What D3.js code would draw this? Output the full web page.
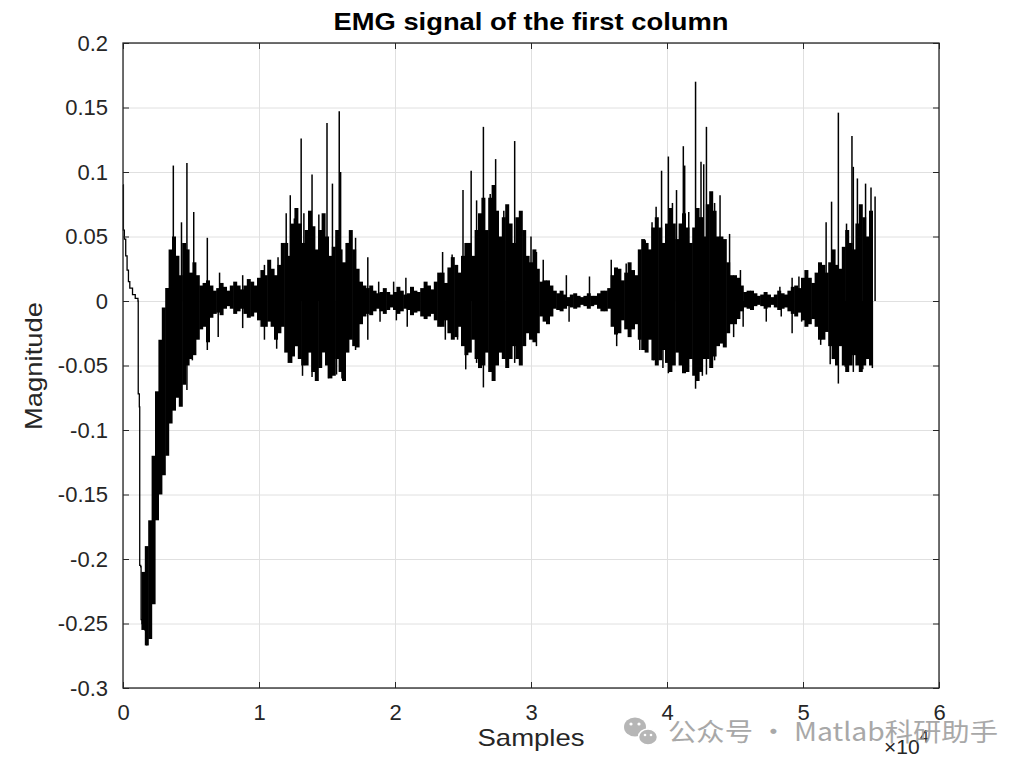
<!DOCTYPE html>
<html>
<head>
<meta charset="utf-8">
<script src="https://cdn.jsdelivr.net/npm/d3@7"></script>
<style>
  body{margin:0;background:#fff;}
  text{font-family:"Liberation Sans",Arial,sans-serif;fill:#262626;}
</style>
</head>
<body>
<div id="graph"></div>
<script>
// x values are in units of 1e4 samples (axis shows x10^4)

// start of the record: slow decay then the big negative drop
var leadX = [0, 0.003, 0.01, 0.02, 0.03, 0.04, 0.05, 0.07, 0.09, 0.11, 0.112, 0.12, 0.123, 0.13, 0.133, 0.14, 0.15, 0.16, 0.17, 0.175];
var leadY = [0.09, 0.055, 0.048, 0.035, 0.024, 0.015, 0.01, 0.005, 0.002, 0.0, -0.072, -0.082, -0.205, -0.206, -0.247, -0.25, -0.24, -0.255, -0.26, -0.267];

// dense part of the signal, max / min every 0.05 (x1e4) from 0.15 to 5.50
var coreStart = 0.15, coreStep = 0.05;
var coreHi = [-0.21, -0.17, -0.07, -0.005, 0.04, 0.035, 0.045, 0.022, 0.02, 0.014,
  0.012, 0.01, 0.011, 0.012, 0.012, 0.012, 0.015, 0.018, 0.02, 0.025,
  0.028, 0.045, 0.06, 0.06, 0.055, 0.058, 0.055, 0.05, 0.042, 0.04,
  0.045, 0.04, 0.015, 0.01, 0.008, 0.007, 0.007, 0.007, 0.008, 0.006,
  0.008, 0.01, 0.012, 0.015, 0.022, 0.026, 0.028, 0.035, 0.045, 0.055,
  0.08, 0.08, 0.07, 0.065, 0.06, 0.065, 0.055, 0.03, 0.025, 0.016,
  0.012, 0.006, 0.005, 0.005, 0.004, 0.004, 0.004, 0.006, 0.008, 0.02,
  0.025, 0.022, 0.024, 0.04, 0.045, 0.057, 0.057, 0.06, 0.06, 0.06,
  0.057, 0.057, 0.065, 0.075, 0.07, 0.05, 0.03, 0.02, 0.012, 0.008,
  0.006, 0.005, 0.005, 0.005, 0.006, 0.008, 0.012, 0.018, 0.018, 0.022,
  0.028, 0.03, 0.028, 0.042, 0.045, 0.06, 0.065, 0.07];
var coreLo = [-0.255, -0.262, -0.17, -0.135, -0.095, -0.075, -0.065, -0.045, -0.03, -0.02,
  -0.013, -0.009, -0.006, -0.006, -0.008, -0.01, -0.012, -0.015, -0.02, -0.02,
  -0.025, -0.04, -0.043, -0.045, -0.05, -0.055, -0.052, -0.05, -0.058, -0.055,
  -0.04, -0.035, -0.018, -0.01, -0.008, -0.008, -0.007, -0.007, -0.008, -0.007,
  -0.009, -0.012, -0.012, -0.015, -0.02, -0.025, -0.028, -0.035, -0.04, -0.045,
  -0.05, -0.055, -0.05, -0.045, -0.045, -0.045, -0.035, -0.03, -0.025, -0.016,
  -0.012, -0.007, -0.006, -0.005, -0.005, -0.004, -0.004, -0.006, -0.008, -0.02,
  -0.025, -0.022, -0.022, -0.03, -0.04, -0.046, -0.046, -0.048, -0.05, -0.05,
  -0.055, -0.058, -0.055, -0.045, -0.043, -0.033, -0.025, -0.018, -0.008, -0.006,
  -0.004, -0.004, -0.005, -0.005, -0.006, -0.008, -0.012, -0.015, -0.018, -0.02,
  -0.03, -0.035, -0.05, -0.05, -0.05, -0.05, -0.05, -0.05];

// max / min in between (0.175, 0.225, ... 5.475), gives the ragged edge
var midStart = 0.175;
var midHi = [-0.19, -0.12, -0.03, 0.01, 0.05, 0.02, 0.04, 0.03, 0.012, 0.016,
  0.008, 0.014, 0.008, 0.015, 0.009, 0.017, 0.012, 0.024, 0.032, 0.02,
  0.045, 0.035, 0.072, 0.045, 0.07, 0.04, 0.068, 0.035, 0.055, 0.03,
  0.055, 0.025, 0.012, 0.012, 0.006, 0.01, 0.005, 0.011, 0.005, 0.011,
  0.007, 0.015, 0.009, 0.022, 0.014, 0.034, 0.022, 0.045, 0.035, 0.068,
  0.055, 0.09, 0.05, 0.075, 0.045, 0.07, 0.035, 0.04, 0.015, 0.016,
  0.008, 0.008, 0.003, 0.006, 0.003, 0.006, 0.004, 0.008, 0.01, 0.026,
  0.016, 0.03, 0.02, 0.048, 0.04, 0.065, 0.045, 0.072, 0.048, 0.068,
  0.045, 0.072, 0.05, 0.085, 0.05, 0.048, 0.02, 0.018, 0.007, 0.008,
  0.004, 0.007, 0.003, 0.008, 0.005, 0.011, 0.01, 0.024, 0.014, 0.03,
  0.022, 0.04, 0.025, 0.055, 0.04, 0.075, 0.05];
var midLo = [-0.267, -0.235, -0.15, -0.12, -0.085, -0.082, -0.05, -0.042, -0.022, -0.032,
  -0.01, -0.011, -0.004, -0.01, -0.006, -0.013, -0.009, -0.02, -0.016, -0.03,
  -0.02, -0.048, -0.035, -0.05, -0.04, -0.062, -0.04, -0.06, -0.045, -0.062,
  -0.03, -0.036, -0.012, -0.011, -0.006, -0.01, -0.005, -0.01, -0.006, -0.011,
  -0.008, -0.014, -0.01, -0.02, -0.015, -0.03, -0.02, -0.042, -0.03, -0.052,
  -0.04, -0.062, -0.04, -0.052, -0.035, -0.05, -0.025, -0.032, -0.012, -0.018,
  -0.006, -0.008, -0.004, -0.006, -0.003, -0.006, -0.003, -0.008, -0.006, -0.026,
  -0.015, -0.028, -0.018, -0.038, -0.03, -0.05, -0.038, -0.055, -0.04, -0.056,
  -0.045, -0.062, -0.045, -0.052, -0.035, -0.036, -0.018, -0.014, -0.005, -0.007,
  -0.003, -0.006, -0.003, -0.007, -0.005, -0.01, -0.009, -0.02, -0.014, -0.03,
  -0.024, -0.045, -0.035, -0.055, -0.042, -0.055, -0.045];

// single tall samples sticking out of the envelope
var spikeX = [0.37, 0.43, 0.47, 0.52, 0.62, 0.71, 0.88, 1.04, 1.14, 1.20,
  1.23, 1.26, 1.31, 1.33, 1.39, 1.44, 1.50, 1.54, 1.59, 1.60,
  1.65, 1.71, 1.80, 1.88, 1.99, 2.08, 2.35, 2.42, 2.50, 2.56,
  2.60, 2.65, 2.70, 2.74, 2.80, 2.88, 2.92, 3.00, 3.04, 3.09,
  3.26, 3.43, 3.59, 3.70, 3.80, 3.84, 3.89, 3.92, 3.96, 4.01,
  4.04, 4.07, 4.12, 4.13, 4.16, 4.21, 4.25, 4.27, 4.29, 4.32,
  4.35, 4.39, 4.46, 4.54, 4.83, 4.92, 4.97, 5.17, 5.21, 5.26,
  5.32, 5.36, 5.37, 5.40, 5.46, 5.50, 5.53];
var spikeY = [0.105, 0.061, 0.107, 0.069, 0.049, 0.022, 0.02, 0.028, 0.034, 0.068,
  0.082, 0.064, 0.126, 0.068, 0.098, 0.067, 0.138, 0.091, 0.147, 0.10,
  0.045, 0.049, 0.034, 0.015, 0.015, 0.018, 0.038, 0.036, 0.086, 0.101,
  0.078, 0.135, 0.083, 0.11, 0.07, 0.124, 0.063, 0.05, 0.038, 0.032,
  0.02, 0.019, 0.032, 0.029, 0.033, 0.047, 0.061, 0.073, 0.101, 0.112,
  0.076, 0.086, 0.12, 0.105, 0.069, 0.17, 0.108, 0.106, 0.135, 0.077,
  0.076, 0.082, 0.052, 0.024, 0.011, 0.018, 0.019, 0.061, 0.077, 0.146,
  0.06, 0.128, 0.104, 0.095, 0.091, 0.088, 0.081];
var dipX = [0.47, 0.51, 0.62, 0.70, 0.88, 1.04, 1.13, 1.24, 1.32, 1.39,
  1.42, 1.51, 1.57, 1.61, 1.71, 1.80, 1.89, 2.01, 2.09, 2.37,
  2.46, 2.52, 2.60, 2.65, 2.72, 2.82, 2.88, 3.04, 3.28, 3.63,
  3.80, 3.90, 3.97, 4.01, 4.12, 4.21, 4.26, 4.29, 4.35, 4.49,
  4.56, 4.73, 4.84, 4.92, 4.99, 5.13, 5.20, 5.26, 5.31, 5.37,
  5.44, 5.51];
var dipY = [-0.069, -0.046, -0.038, -0.028, -0.021, -0.03, -0.037, -0.048, -0.058, -0.059,
  -0.053, -0.06, -0.057, -0.06, -0.038, -0.03, -0.016, -0.015, -0.02, -0.03,
  -0.03, -0.053, -0.048, -0.067, -0.051, -0.046, -0.048, -0.035, -0.016, -0.035,
  -0.038, -0.046, -0.052, -0.056, -0.051, -0.068, -0.058, -0.057, -0.046, -0.028,
  -0.02, -0.016, -0.012, -0.025, -0.016, -0.034, -0.049, -0.064, -0.051, -0.055,
  -0.053, -0.052];

var xTicks = [0, 1, 2, 3, 4, 5, 6];
var yTicks = [0.2, 0.15, 0.1, 0.05, 0, -0.05, -0.1, -0.15, -0.2, -0.25, -0.3];

var margin = {top: 43, right: 88, bottom: 84, left: 123},
  width = 1027 - margin.left - margin.right,
  height = 772 - margin.top - margin.bottom;

var root = d3.select("#graph")
  .append("svg")
    .attr("width", 1027)
    .attr("height", 772);

var svg = root.append("g")
  .attr("transform", "translate(" + margin.left + "," + margin.top + ")");

var x = d3.scaleLinear().domain([0, 6]).range([0, width]);
var y = d3.scaleLinear().domain([-0.3, 0.2]).range([height, 0]);

// grid
svg.append("g")
  .attr("class", "grid")
  .call(d3.axisBottom(x).tickValues(xTicks).tickSize(height).tickFormat(""));
svg.append("g")
  .attr("class", "grid")
  .call(d3.axisLeft(y).tickValues(yTicks).tickSize(-width).tickFormat(""));
svg.selectAll(".grid .domain").remove();
svg.selectAll(".grid line").attr("stroke", "#e0e0e0").attr("stroke-width", 1);

// signal: every max/min pair drawn as one vertical stroke
var bars = coreHi.map(function(h, i){
  return {v: coreStart + i * coreStep, hi: h, lo: coreLo[i]};
}).concat(midHi.map(function(h, i){
  return {v: midStart + i * coreStep, hi: h, lo: midLo[i]};
}));
// a bit wider than the spacing so the bursts come out solid
var barW = (x(coreStep / 2) - x(0)) + 0.6;

svg.selectAll("line.bar")
  .data(bars)
  .enter()
  .append("line")
    .attr("class", "bar")
    .attr("x1", function(d){ return x(d.v); })
    .attr("x2", function(d){ return x(d.v); })
    .attr("y1", function(d){ return y(d.lo); })
    .attr("y2", function(d){ return y(d.hi); })
    .attr("stroke", "#000")
    .attr("stroke-width", barW);

var lead = leadX.map(function(v, i){ return [x(v), y(leadY[i])]; });
svg.append("path")
  .attr("fill", "none")
  .attr("stroke", "#000")
  .attr("stroke-width", 1.3)
  .attr("d", d3.line().curve(d3.curveStepAfter)(lead));

var spikes = spikeX.map(function(v, i){ return {v: v, val: spikeY[i]}; })
  .concat(dipX.map(function(v, i){ return {v: v, val: dipY[i]}; }));
svg.selectAll("line.spike")
  .data(spikes)
  .enter()
  .append("line")
    .attr("class", "spike")
    .attr("x1", function(d){ return x(d.v); })
    .attr("x2", function(d){ return x(d.v); })
    .attr("y1", y(0))
    .attr("y2", function(d){ return y(d.val); })
    .attr("stroke", "#000")
    .attr("stroke-width", 1.5);

// axes, ticks point inwards like octave
var fmt = function(d){ return String(+d.toFixed(2)); };
svg.append("g")
  .attr("class", "ax")
  .attr("transform", "translate(0," + height + ")")
  .call(d3.axisBottom(x).tickValues(xTicks).tickSizeInner(-6).tickSizeOuter(0).tickPadding(16).tickFormat(fmt));
svg.append("g")
  .attr("class", "ax")
  .call(d3.axisLeft(y).tickValues(yTicks).tickSizeInner(-6).tickSizeOuter(0).tickPadding(15).tickFormat(fmt));
svg.append("g")
  .attr("class", "ax")
  .call(d3.axisTop(x).tickValues(xTicks).tickSizeInner(-6).tickSizeOuter(0).tickFormat(""));
svg.append("g")
  .attr("class", "ax")
  .attr("transform", "translate(" + width + ",0)")
  .call(d3.axisRight(y).tickValues(yTicks).tickSizeInner(-6).tickSizeOuter(0).tickFormat(""));
svg.selectAll(".domain").remove();
svg.selectAll(".ax .tick line").attr("stroke", "#262626");
svg.selectAll(".tick text").attr("font-size", 22).attr("fill", "#262626")
  .style("font-family", "Liberation Sans, Arial, sans-serif");

svg.append("rect")
  .attr("width", width)
  .attr("height", height)
  .attr("fill", "none")
  .attr("stroke", "#262626")
  .attr("stroke-width", 1.3);

// labels
root.append("text")
  .attr("x", 531).attr("y", 30)
  .attr("text-anchor", "middle")
  .attr("font-size", 24)
  .attr("font-weight", "bold")
  .attr("textLength", 395)
  .attr("lengthAdjust", "spacingAndGlyphs")
  .style("fill", "#000")
  .text("EMG signal of the first column");

root.append("text")
  .attr("x", 531).attr("y", 746)
  .attr("text-anchor", "middle")
  .attr("font-size", 24)
  .attr("textLength", 107)
  .attr("lengthAdjust", "spacingAndGlyphs")
  .text("Samples");

root.append("text")
  .attr("transform", "translate(42,366) rotate(-90)")
  .attr("text-anchor", "middle")
  .attr("font-size", 24)
  .attr("textLength", 128)
  .attr("lengthAdjust", "spacingAndGlyphs")
  .text("Magnitude");

var expo = root.append("text")
  .attr("x", 884).attr("y", 754)
  .attr("font-size", 21);
expo.append("tspan").text("\u00d710");
expo.append("tspan").attr("font-size", 16).attr("dy", -12).text("4");

// watermark
var wm = root.append("g").attr("opacity", 0.85);
wm.append("ellipse").attr("cx", 635).attr("cy", 727).attr("rx", 11).attr("ry", 9.5).attr("fill", "#aaa");
wm.append("ellipse").attr("cx", 648).attr("cy", 737).attr("rx", 9.5).attr("ry", 8).attr("fill", "#aaa").attr("stroke", "#fff").attr("stroke-width", 1.5);
wm.append("circle").attr("cx", 631).attr("cy", 724).attr("r", 1.6).attr("fill", "#fff");
wm.append("circle").attr("cx", 639).attr("cy", 724).attr("r", 1.6).attr("fill", "#fff");
wm.append("circle").attr("cx", 645).attr("cy", 735).attr("r", 1.3).attr("fill", "#fff");
wm.append("circle").attr("cx", 651).attr("cy", 735).attr("r", 1.3).attr("fill", "#fff");
wm.append("text")
  .attr("x", 668).attr("y", 741)
  .attr("font-size", 25)
  .attr("textLength", 330)
  .attr("lengthAdjust", "spacingAndGlyphs")
  .style("font-family", "Noto Sans CJK SC, sans-serif")
  .style("fill", "#9a9a9a")
  .text("公众号 · Matlab科研助手");
</script>
</body>
</html>
